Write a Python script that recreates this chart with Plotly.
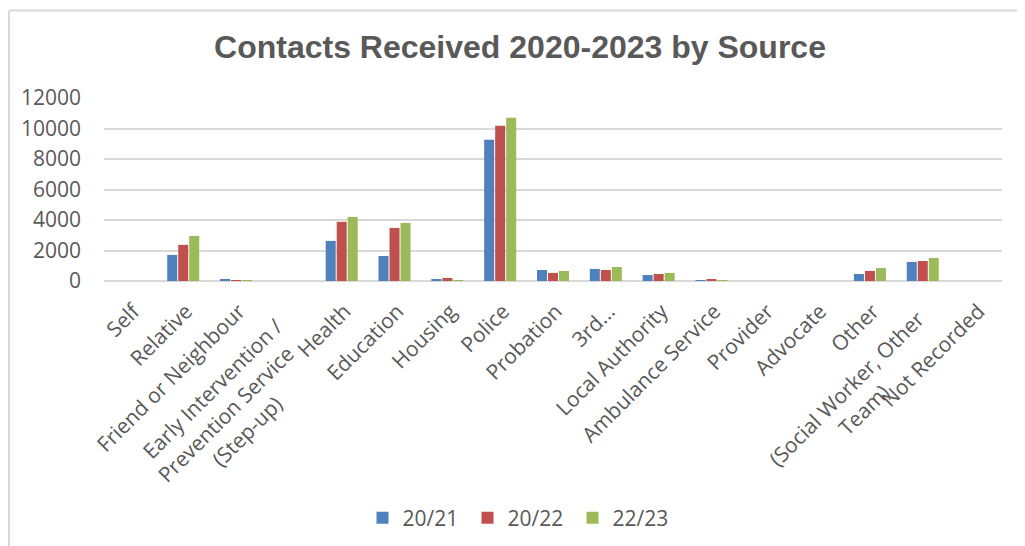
import plotly.graph_objects as go

# ---------------
# DATA
# ---------------
NB = "\u00a0"
sources = [
    "Self", "Relative", "Friend or Neighbour",
    "Early Intervention /" + NB * 4 + "<br>Prevention Service" + NB * 6
    + "<br>(Step-up)" + NB * 14,
    "Health", "Education", "Housing", "Police", "Probation", "3rd...",
    "Local Authority", "Ambulance Service", "Provider", "Advocate", "Other",
    "(Social Worker, Other" + NB * 2 + "<br>Team)" + NB * 16, "Not Recorded",
]
y2021 = [0, 1710, 70, 0, 2630, 1640, 130, 9260, 720, 790, 390, 60, 0, 0, 460, 1250, 0]
y2022 = [0, 2370, 60, 0, 3880, 3480, 200, 10180, 530, 720, 460, 130, 0, 0, 660, 1310, 0]
y2023 = [0, 2960, 60, 0, 4200, 3810, 60, 10710, 660, 920, 530, 60, 0, 0, 850, 1510, 0]
series_names = ["20/21", "20/22", "22/23"]
colors = ["#4F81BD", "#C0504D", "#9BBB59"]

FONT = "Open Sans, Liberation Sans, Arial, sans-serif"
GREY = "#595959"

fig = go.Figure()
for name, vals, col in zip(series_names, [y2021, y2022, y2023], colors):
    fig.add_trace(go.Bar(x=sources, y=vals, name=name, marker=dict(color=col, line_width=0)))

# the page body adds an 8px margin, so the figure is drawn 8px in from the window
OFF = 8
W, H = 1025 - OFF, 546 - OFF
# plot area in window pixels: x 104..1002, y 98..281
L, T = 104 - OFF, 98 - OFF
R, B = W - (1002 - OFF), H - (281 - OFF)
pw, ph = W - L - R, H - T - B

def px(x):
    return (x - OFF - L) / pw

def py(y):
    return (H - B - (y - OFF)) / ph

# light frame around the chart (only left and top visible)
frame = dict(color="#D9D9D9", width=2)
fig.add_shape(type="line", xref="paper", yref="paper",
              x0=px(9), x1=px(9), y0=py(10.5), y1=py(560), line=frame)
fig.add_shape(type="line", xref="paper", yref="paper",
              x0=px(9), x1=px(1040), y0=py(10.5), y1=py(10.5), line=frame)

fig.update_layout(
    width=W, height=H,
    margin=dict(l=L, r=R, t=T, b=B, autoexpand=False),
    plot_bgcolor="white", paper_bgcolor="white",
    font=dict(family=FONT, color=GREY, size=21),
    title=dict(text="<b>Contacts Received 2020-2023 by Source</b>",
               xref="paper", x=px(520), xanchor="center",
               yref="container", y=1 - (47 - OFF) / H, yanchor="middle",
               font=dict(family="Liberation Sans, Arial, sans-serif", size=32, color=GREY)),
    barmode="group", bargap=0.375, bargroupgap=0.09,
    xaxis=dict(tickangle=-45, showgrid=False, showline=False, ticks="",
               ticklabelstandoff=13, ticklabelshift=3,
               tickfont=dict(size=21, color=GREY), automargin=False),
    yaxis=dict(range=[0, 12000], dtick=2000, tickformat="d", showgrid=True,
               gridcolor="#D9D9D9", gridwidth=2, zeroline=True, zerolinecolor="#D9D9D9",
               zerolinewidth=2, showline=False, ticks="", ticklabelstandoff=22,
               tickfont=dict(size=21, color=GREY), automargin=False),
    legend=dict(orientation="h", x=px(520), xanchor="center", y=py(518), yanchor="middle",
                font=dict(size=21, color=GREY), itemwidth=30,
                entrywidth=60, entrywidthmode="pixels"),
    showlegend=True,
)

fig.write_html("out.html")
